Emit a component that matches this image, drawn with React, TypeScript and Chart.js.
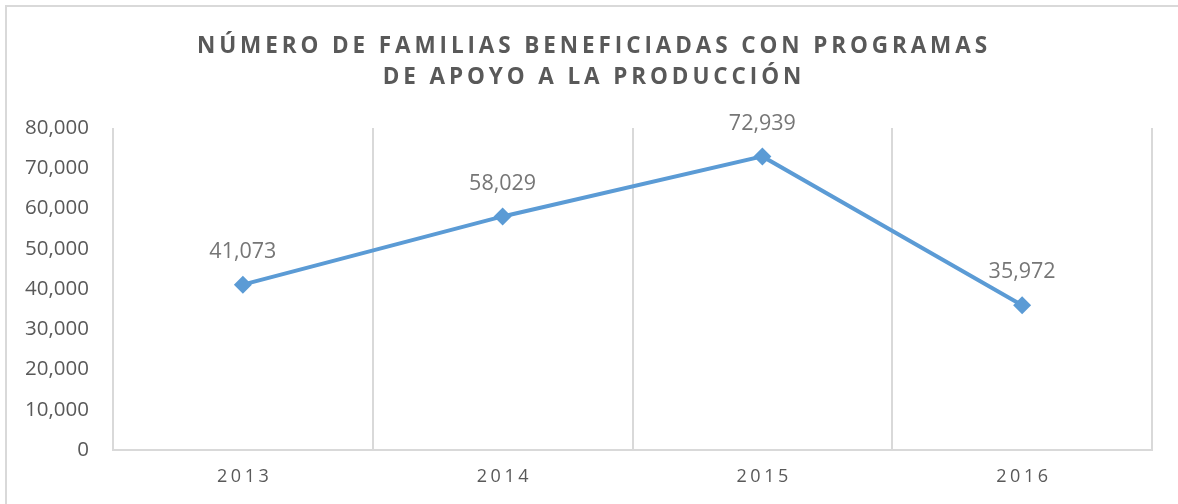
import React, { useEffect, useRef } from "react";
import { Chart, registerables } from "chart.js";

Chart.register(...registerables);

const titleLines = ["NÚMERO DE FAMILIAS BENEFICIADAS CON PROGRAMAS", "DE APOYO A LA PRODUCCIÓN"];
const years = ["2013", "2014", "2015", "2016"];
const families = [41073, 58029, 72939, 35972];
const yMin = 0;
const yMax = 80000;
const yStep = 10000;

const FONT = "'Open Sans', 'Liberation Sans', sans-serif";
const TEXT = "#595959";
const LABEL = "#767676";
const GRID = "#d9d9d9";
const LINE = "#5B9BD5";

const fmt = (v: number) => v.toLocaleString("en-US");

const decor = {
  id: "decor",
  beforeDraw(chart: any) {
    const ctx = chart.ctx;
    ctx.save();
    ctx.strokeStyle = GRID;
    ctx.lineWidth = 2;
    ctx.beginPath();
    ctx.moveTo(6, chart.height + 5);
    ctx.lineTo(6, 6);
    ctx.lineTo(chart.width + 5, 6);
    ctx.stroke();
    // title
    ctx.fillStyle = TEXT;
    ctx.font = `bold 22.5px ${FONT}`;
    (ctx as any).letterSpacing = "3.9px";
    ctx.textAlign = "center";
    ctx.textBaseline = "middle";
    const cx = 592;
    ctx.fillText(titleLines[0], cx + 1.95, 47);
    ctx.fillText(titleLines[1], cx + 1.95, 78);
    ctx.restore();
  },
  afterDraw(chart: any) {
    const ctx = chart.ctx;
    ctx.save();
    const xs = chart.scales.x;
    const area = chart.chartArea;
    ctx.fillStyle = TEXT;
    ctx.font = `18px ${FONT}`;
    (ctx as any).letterSpacing = "3.6px";
    ctx.textAlign = "center";
    ctx.textBaseline = "middle";
    years.forEach((y, i) => {
      ctx.fillText(y, xs.getPixelForValue(i) + 1.8, area.bottom + 27);
    });
    (ctx as any).letterSpacing = "0px";
    ctx.font = `21.5px ${FONT}`;
    ctx.fillStyle = LABEL;
    const meta = chart.getDatasetMeta(0);
    meta.data.forEach((pt: any, i: number) => {
      ctx.fillText(fmt(families[i]), pt.x, pt.y - 33);
    });
    ctx.restore();
  },
};

export default function App() {
  const ref = useRef<HTMLCanvasElement | null>(null);
  useEffect(() => {
    if (!ref.current) return;
    const chart = new Chart(ref.current, {
      type: "line",
      data: {
        labels: years,
        datasets: [
          {
            data: families,
            borderColor: LINE,
            backgroundColor: LINE,
            borderWidth: 4,
            pointStyle: "rectRot",
            pointRadius: 9,
            pointHoverRadius: 9,
            pointBackgroundColor: LINE,
            pointBorderColor: LINE,
            pointBorderWidth: 0,
            tension: 0,
          },
        ],
      },
      options: {
        responsive: true,
        maintainAspectRatio: false,
        animation: false,
        layout: { padding: { top: 128, right: 26, left: 0, bottom: 0 } },
        plugins: {
          legend: { display: false },
          title: { display: false },
          tooltip: { enabled: false },
        },
        scales: {
          x: {
            offset: true,
            grid: { display: true, offset: true, color: GRID, lineWidth: 2, drawTicks: false },
            border: { display: true, color: GRID, width: 2 },
            ticks: { color: "rgba(0,0,0,0)", font: { size: 18, family: FONT } },
            afterFit: (s: any) => {
              s.height = 54;
            },
          },
          y: {
            min: yMin,
            max: yMax,
            grid: { display: false },
            border: { display: false },
            ticks: {
              stepSize: yStep,
              color: TEXT,
              padding: 16,
              font: { size: 20.5, family: FONT },
              callback: (v: any) => fmt(Number(v)),
            },
            afterFit: (s: any) => {
              s.width = 113;
            },
          },
        },
      },
      plugins: [decor],
    });
    return () => chart.destroy();
  }, []);
  return (
    <div style={{ position: "absolute", left: 0, top: 0, width: 1178, height: 504, background: "#fff" }}>
      <canvas ref={ref} />
    </div>
  );
}
